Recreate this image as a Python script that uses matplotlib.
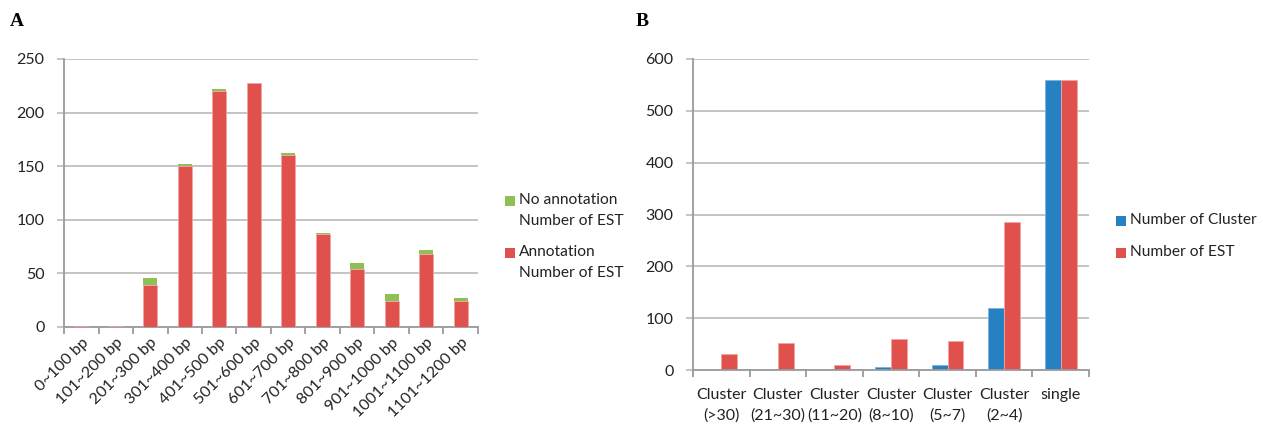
import numpy as np
import matplotlib
matplotlib.use('Agg')
import matplotlib.pyplot as plt
from matplotlib.patches import Rectangle

plt.rcParams['font.family'] = ['Lato', 'DejaVu Sans']

# Panel A: EST length distribution
length_bins = ['0~100 bp', '101~200 bp', '201~300 bp', '301~400 bp', '401~500 bp',
               '501~600 bp', '601~700 bp', '701~800 bp', '801~900 bp', '901~1000 bp',
               '1001~1100 bp', '1101~1200 bp']
annotated = [1, 1, 39, 150, 220, 228, 160, 87, 54, 24, 68, 24]
not_annotated = [0, 0, 7, 2, 2, 0, 2, 1, 6, 7, 4, 3]

# Panel B: cluster sizes
cluster_groups = ['Cluster\n(>30)', 'Cluster\n(21~30)', 'Cluster\n(11~20)', 'Cluster\n(8~10)',
                  'Cluster\n(5~7)', 'Cluster\n(2~4)', 'single']
n_cluster = [0, 0, 0, 6, 9, 120, 559]
n_est = [30, 52, 10, 59, 55, 285, 559]

RED = '#E0504D'
GREEN = '#8DC153'
BLUE = '#2581C2'
EDGE_RED = '#F2A5A3'
GRID = '#BFBFBF'
SPINE = '#9A9A9A'
TXT = '#222222'
W, H = 1263, 426


def style_axis(ax, n, ymax, ystep):
    ax.set_xlim(-0.5, n - 0.5)
    ax.set_ylim(0, ymax)
    ax.set_yticks(np.arange(0, ymax + 1, ystep))
    ax.yaxis.grid(True, color=GRID, linewidth=1.3)
    ax.set_axisbelow(True)
    for s in ['top', 'right']:
        ax.spines[s].set_visible(False)
    for s in ['left', 'bottom']:
        ax.spines[s].set_color(SPINE)
        ax.spines[s].set_linewidth(1.3)
    # ticks sit on category boundaries, labels on the centres
    ax.set_xticks(np.arange(-0.5, n, 1.0))
    ax.set_xticklabels([])
    ax.tick_params(axis='x', which='major', length=5, color=SPINE, width=1.3)
    ax.tick_params(axis='y', length=5, color=GRID, width=1.3, labelsize=11.5, pad=9,
                   labelcolor=TXT)
    ax.set_xticks(np.arange(n), minor=True)
    ax.tick_params(axis='x', which='minor', length=0, labelsize=11.5, labelcolor=TXT)


def legend_entry(fig, x, y, color, label):
    # x, y: top-left of the colour square, in pixels from the top-left corner
    fig.patches.append(Rectangle((x / W, 1 - (y + 10) / H), 10 / W, 10 / H,
                                 facecolor=color, edgecolor='none',
                                 transform=fig.transFigure, figure=fig))
    fig.text((x + 14) / W, 1 - (y - 3) / H, label, fontsize=11.2, color=TXT,
             va='top', ha='left', linespacing=1.6)


fig = plt.figure(figsize=(W / 100, H / 100), dpi=100)

# --- A ---
axA = fig.add_axes([64 / W, 1 - 327 / H, 414 / W, 268 / H])
x = np.arange(len(length_bins))
axA.bar(x, annotated, width=0.4, color=RED, edgecolor=EDGE_RED, linewidth=0.6, zorder=3)
axA.bar(x, not_annotated, width=0.4, bottom=annotated, color=GREEN, linewidth=0, zorder=3)
style_axis(axA, len(length_bins), 250, 50)
axA.set_xticklabels(length_bins, minor=True, rotation=45, ha='right', va='top',
                    rotation_mode='anchor')
axA.tick_params(axis='x', which='minor', pad=6)

legend_entry(fig, 505, 196, GREEN, 'No annotation\nNumber of EST')
legend_entry(fig, 505, 248, RED, 'Annotation\nNumber of EST')

# --- B ---
axB = fig.add_axes([693 / W, 1 - 370 / H, 396 / W, 311 / H])
xb = np.arange(len(cluster_groups))
w = 0.28
axB.bar(xb - w / 2, n_cluster, width=w, color=BLUE, edgecolor='#7FB3DD', linewidth=0.6)
axB.bar(xb + w / 2, n_est, width=w, color=RED, edgecolor=EDGE_RED, linewidth=0.6)
style_axis(axB, len(cluster_groups), 600, 100)
axB.set_xticklabels(cluster_groups, minor=True, linespacing=1.55)
axB.tick_params(axis='x', which='minor', pad=13)

legend_entry(fig, 1116, 216, BLUE, 'Number of Cluster')
legend_entry(fig, 1116, 248, RED, 'Number of EST')

fig.text(10 / W, 1 - 26 / H, 'A', fontsize=14, fontweight='bold', family='Liberation Serif')
fig.text(636 / W, 1 - 26 / H, 'B', fontsize=14, fontweight='bold', family='Liberation Serif')

fig.savefig('out.png', dpi=100, facecolor='white')
